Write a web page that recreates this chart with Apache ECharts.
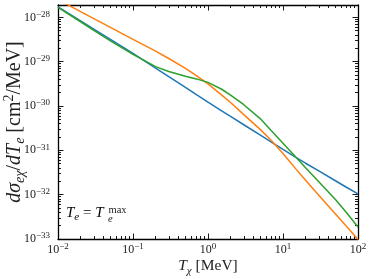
<!DOCTYPE html>
<html><head><meta charset="utf-8">
<script src="https://cdn.jsdelivr.net/npm/echarts@6/dist/echarts.min.js"></script>
<style>html,body{margin:0;padding:0;background:#fff}#c{width:374px;height:279px}</style>
</head><body><div id="c"></div>
<script>
// ---- data (x in MeV, y in cm^2/MeV) ----
const T_CHI = [0.01,0.02,0.03,0.05,0.1,0.2,0.3,0.5,0.7,1,1.5,2,3,5,7,10,15,20,30,50,70,100];
const BLUE = [1.73e-28,8.34e-29,5.44e-29,3.18e-29,1.54e-29,7.18e-30,4.58e-30,2.62e-30,1.80e-30,1.22e-30,7.91e-31,5.82e-31,3.78e-31,2.20e-31,1.54e-31,1.05e-31,6.87e-32,5.12e-32,3.43e-32,2.06e-32,1.47e-32,1.04e-32];
const ORANGE = [2.51e-28,1.35e-28,9.39e-29,5.94e-29,3.18e-29,1.73e-29,1.18e-29,7.03e-30,4.83e-30,3.16e-30,1.80e-30,1.20e-30,6.40e-31,2.93e-31,1.67e-31,8.47e-32,3.72e-32,2.11e-32,9.75e-33,3.66e-33,1.94e-33,9.75e-34];
const GREEN = [1.68e-28,7.96e-29,5.09e-29,2.95e-29,1.46e-29,7.74e-30,6.01e-30,4.68e-30,4.09e-30,3.41e-30,2.42e-30,1.77e-30,1.07e-30,5.14e-31,2.77e-31,1.45e-31,6.87e-32,4.06e-32,1.96e-32,7.74e-33,3.96e-33,1.87e-33];
const X_RANGE = [0.01, 100];
const Y_RANGE = [1e-33, 1.9e-28];
const X_TICKS = [0.01, 0.1, 1, 10, 100];
const Y_TICKS = [1e-33, 1e-32, 1e-31, 1e-30, 1e-29, 1e-28];
const COLORS = ['#1f77b4', '#ff7f0e', '#2ca02c'];

const F = 'Liberation Serif';
const TXT = '#222';
const lg = v => Math.round(Math.log10(v) * 1e6) / 1e6;

function minorExps(range) {
  const out = [];
  const a = Math.floor(lg(range[0])), b = Math.ceil(lg(range[1]));
  for (let n = a; n < b; n++) for (let k = 2; k <= 9; k++) {
    const e = n + Math.log10(k);
    if (e > lg(range[0]) && e < lg(range[1])) out.push(e);
  }
  return out;
}
const labelRich = {
  b: {fontFamily: F, fontSize: 12, lineHeight: 15, color: TXT},
  s: {fontFamily: F, fontSize: 9, lineHeight: 9, verticalAlign: 'top', color: TXT}
};
function fmt(v) {
  const r = Math.round(v);
  if (Math.abs(v - r) > 1e-6) return '';
  return '{b|10}{s|' + (r < 0 ? '\u2212' : '') + Math.abs(r) + '}';
}
function nameRich(sz) {
  const sub = Math.round(sz * 0.7);
  return {
    i: {fontFamily: F, fontStyle: 'italic', fontSize: sz, lineHeight: sz + 5, color: TXT},
    n: {fontFamily: F, fontSize: sz, lineHeight: sz + 5, color: TXT},
    sub: {fontFamily: F, fontStyle: 'italic', fontSize: sub, lineHeight: sub, verticalAlign: 'bottom', color: TXT},
    sup: {fontFamily: F, fontSize: sub, lineHeight: sub, verticalAlign: 'top', color: TXT}
  };
}

function axis(pos, range, ticks, minor, extra) {
  const base = {
    type: 'value', position: pos, min: lg(range[0]), max: lg(range[1]),
    interval: 1, offset: 0, splitLine: {show: false},
    axisLine: {show: !minor, onZero: false, lineStyle: {color: '#000', width: 1.3}},
    axisTick: {show: true, inside: true, length: minor ? 3 : 5.5,
      lineStyle: {color: '#000', width: 0.9},
      customValues: minor ? minorExps(range) : ticks.map(lg)},
    axisLabel: {show: false}
  };
  return Object.assign(base, extra || {});
}

const xAxes = [
  axis('bottom', X_RANGE, X_TICKS, false, {
    axisLabel: {show: true, margin: 3, formatter: fmt, rich: labelRich, customValues: X_TICKS.map(lg)},
    name: '{i|T}{sub|\u03c7}{n| [MeV]}', nameLocation: 'middle', nameGap: 17, nameMoveOverlap: false,
    nameTextStyle: {rich: nameRich(15.5)}
  }),
  axis('bottom', X_RANGE, X_TICKS, true),
  axis('top', X_RANGE, X_TICKS, false),
  axis('top', X_RANGE, X_TICKS, true)
];
const yAxes = [
  axis('left', Y_RANGE, Y_TICKS, false, {
    axisLabel: {show: true, margin: 8, formatter: fmt, rich: labelRich, customValues: Y_TICKS.map(lg)},
    name: '{i|d\u03c3}{sub|e\u03c7}{n|/}{i|dT}{sub|e}{n| [cm}{sup|2}{n|/MeV]}',
    nameLocation: 'middle', nameRotate: 90, nameGap: 31, nameMoveOverlap: false,
    nameTextStyle: {rich: nameRich(20)}
  }),
  axis('left', Y_RANGE, Y_TICKS, true),
  axis('right', Y_RANGE, Y_TICKS, false),
  axis('right', Y_RANGE, Y_TICKS, true)
];

const seriesData = [BLUE, ORANGE, GREEN];
const chart = echarts.init(document.getElementById('c'), null, {renderer: 'canvas'});
chart.setOption({
  animation: false,
  grid: {left: 58, right: 16, top: 5, bottom: 40, containLabel: false, outerBoundsMode: 'none'},
  xAxis: xAxes,
  yAxis: yAxes,
  series: seriesData.map((ys, i) => ({
    type: 'line', xAxisIndex: 0, yAxisIndex: 0, showSymbol: false, symbol: 'none',
    smooth: false, clip: true,
    lineStyle: {color: COLORS[i], width: 1.5},
    data: T_CHI.map((x, j) => [lg(x), Math.log10(ys[j])])
  })),
  graphic: [
    {type: 'text', x: 66, y: 203, style: {
      text: '{i|T}{sub|e}{n| = }{i|T}', rich: nameRich(15)}},
    {type: 'text', x: 108.5, y: 205, style: {text: 'max', font: '10.5px "Liberation Serif"', fill: TXT}},
    {type: 'text', x: 108, y: 214, style: {text: 'e', font: 'italic 10.5px "Liberation Serif"', fill: TXT}}
  ]
});
</script>
</body></html>
